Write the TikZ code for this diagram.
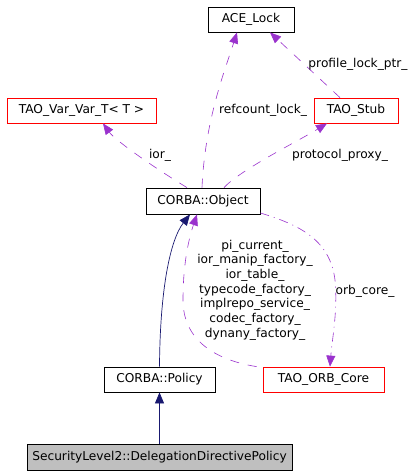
\documentclass[tikz,border=0pt]{standalone}
\usepackage{fontspec}
\setmainfont{DejaVu Sans}
\usetikzlibrary{arrows.meta}
\definecolor{edgepurple}{HTML}{9A32CD}
\definecolor{edgenavy}{HTML}{191970}
\definecolor{boxgray}{HTML}{BFBFBF}
\tikzset{
  cls/.style={draw=black, line width=0.8pt, minimum height=25pt, inner sep=0pt, font=\fontsize{12.2}{14.7}\selectfont},
  redcls/.style={cls, draw=red},
  lbl/.style={inner sep=0pt, font=\fontsize{12.2}{14.7}\selectfont, align=center},
  usage/.style={draw=edgepurple, line width=0.6pt, dash pattern=on 9pt off 9pt, -{Triangle[length=11pt,width=9pt,fill=edgepurple]}},
  usagedd/.style={draw=edgepurple, line width=0.6pt, dash pattern=on 9pt off 5pt on 1pt off 5pt, -{Triangle[length=11pt,width=9pt,fill=edgepurple]}},
  inherit/.style={draw=edgenavy, line width=0.7pt, -{Triangle[length=11pt,width=9pt,fill=edgenavy]}}
}
\begin{document}
\begin{tikzpicture}[x=1pt,y=-1pt]
\useasboundingbox (0,0) rectangle (415,475);
\node[cls, minimum width=86pt] (ace) at (251,19.5) {ACE\_Lock};
\node[redcls, minimum width=149pt] (tvv) at (81.5,110.5) {TAO\_Var\_Var\_T< T >};
\node[redcls, minimum width=84pt] (stub) at (356,110.5) {TAO\_Stub};
\node[cls, minimum width=114pt, minimum height=26pt] (obj) at (203,201) {CORBA::Object};
\node[cls, minimum width=111pt] (pol) at (159.5,379.5) {CORBA::Policy};
\node[redcls, minimum width=121pt] (orb) at (323.5,379.5) {TAO\_ORB\_Core};
\node[cls, fill=boxgray, minimum width=265pt, minimum height=26pt] (sec) at (159.5,457) {SecurityLevel2::DelegationDirectivePolicy};

% edges
\draw[usage] ([xshift=-1pt]obj.north) .. controls (205,120) and (225,70) .. ([xshift=-14pt]ace.south);
\draw[usage] ([xshift=-16pt]stub.north) -- ([xshift=19pt]ace.south);
\draw[usage] ([xshift=-16pt]obj.north) .. controls (150,165) and (115,140) .. ([xshift=21.5pt]tvv.south);
\draw[usage] ([xshift=21pt]obj.north) .. controls (240,170) and (300,140) .. ([xshift=-29pt]stub.south);
\draw[inherit] (pol.north) .. controls (160,290) and (170,240) .. ([xshift=-13pt]obj.south);
\draw[inherit] (sec.north) -- (pol.south);
\draw[usage] ([xshift=-6pt]orb.north west) .. controls (215,360) and (183,340) .. (183,300) .. controls (183,260) and (190,235) .. ([xshift=-6pt]obj.south);
\draw[usagedd] ([yshift=-12pt]obj.east) .. controls (300,225) and (330,240) .. (335,280) .. controls (338,310) and (332,340) .. ([xshift=6.5pt]orb.north);

% labels
\node[lbl] (l1) at (263,110) {refcount\_lock\_};
\node[lbl] (l2) at (358,64) {profile\_lock\_ptr\_};
\node[lbl] (l3) at (160,155) {ior\_};
\node[lbl] (l4) at (340,155) {protocol\_proxy\_};
\node[lbl] (l5) at (255,290) {pi\_current\_\\ior\_manip\_factory\_\\ior\_table\_\\typecode\_factory\_\\implrepo\_service\_\\codec\_factory\_\\dynany\_factory\_};
\node[lbl] (l6) at (365,291) {orb\_core\_};
\end{tikzpicture}
\end{document}
